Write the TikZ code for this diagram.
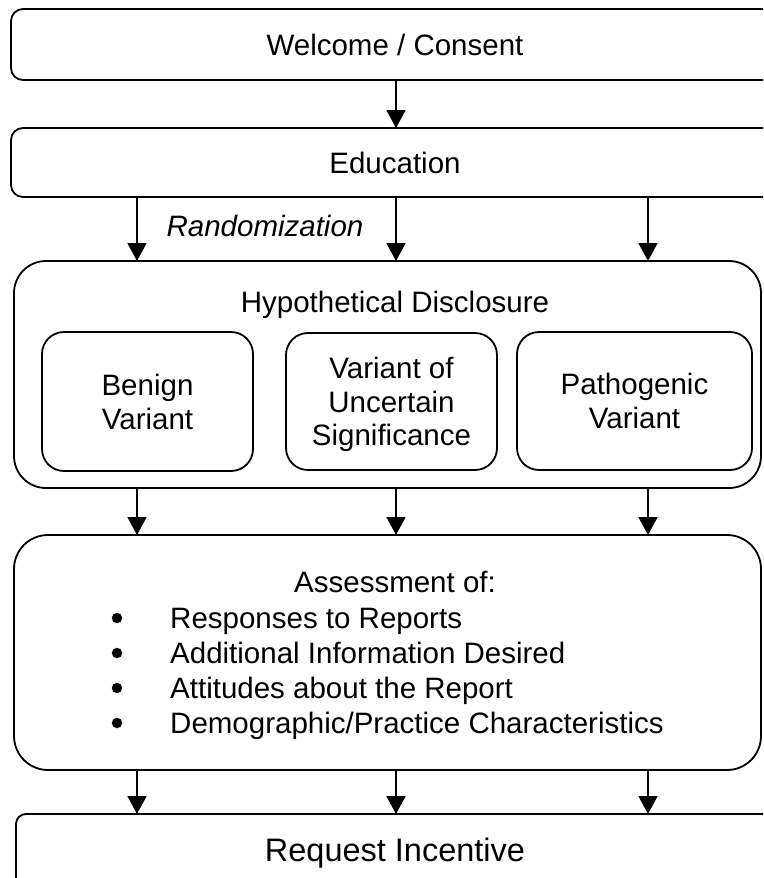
\documentclass[tikz,border=0pt]{standalone}
\usepackage{fontspec}
\setmainfont{Liberation Sans}
\usetikzlibrary{arrows.meta}
\begin{document}
\begin{tikzpicture}[x=1pt,y=-1pt,
  box/.style={draw, line width=1.8pt, inner sep=0pt, outer sep=0pt, align=center, font=\fontsize{29.5}{34}\selectfont},
  arr/.style={line width=1.8pt, -{Triangle[length=18pt,width=19pt]}},
  txt/.style={inner sep=0pt, font=\fontsize{29.5}{35}\selectfont},
  dot/.style={circle, fill, inner sep=0pt, minimum size=10.5pt}]
\useasboundingbox (0,0) rectangle (763,878);
\clip (0,0) rectangle (763,878);
% main boxes
\node[box, rounded corners=12pt, minimum width=768pt, minimum height=71pt] (welcome) at (395,44.5) {Welcome / Consent};
\node[box, rounded corners=12pt, minimum width=768pt, minimum height=69pt] (edu) at (395,162.5) {Education};
\node[box, rounded corners=32pt, minimum width=747pt, minimum height=227pt] (hyp) at (387.5,374.5) {};
\node[txt, anchor=base] (hyptitle) at (395,312) {Hypothetical Disclosure};
\node[box, rounded corners=22pt, minimum width=211pt, minimum height=139pt] (benign) at (147.5,401.5) {Benign\\Variant};
\node[box, rounded corners=22pt, minimum width=211pt, minimum height=137pt] (vus) at (391.5,401.5) {};
\node[txt, align=center, font=\fontsize{29.5}{33.5}\selectfont] (vustext) at (391.5,404.5) {Variant of\\Uncertain\\Significance};
\node[box, rounded corners=22pt, minimum width=235pt, minimum height=138pt] (patho) at (634.5,401) {Pathogenic\\Variant};
\node[box, rounded corners=34pt, minimum width=747pt, minimum height=235pt] (assess) at (387.5,652.5) {};
\node[txt, anchor=base] (asstitle) at (395,592) {Assessment of:};
\node[dot] (b1) at (117,618) {};
\node[dot] (b2) at (117,653) {};
\node[dot] (b3) at (117,688) {};
\node[dot] (b4) at (117,723) {};
\node[txt, anchor=base west] (i1) at (170,628) {Responses to Reports};
\node[txt, anchor=base west] (i2) at (170,663) {Additional Information Desired};
\node[txt, anchor=base west] (i3) at (170,698) {Attitudes about the Report};
\node[txt, anchor=base west] (i4) at (170,733) {Demographic/Practice Characteristics};
\node[box, rounded corners=10pt, font=\fontsize{32.5}{38}\selectfont, minimum width=758pt, minimum height=78pt] (req) at (395,853) {Request Incentive};
\node[txt, anchor=base, font=\itshape\fontsize{29.5}{34}\selectfont] (rand) at (265,236) {Randomization};
% columns
\coordinate (cL) at (137,0);
\coordinate (cM) at (396,0);
\coordinate (cR) at (648,0);
\draw[arr] (welcome.south -| cM) -- (edu.north -| cM);
\foreach \col in {cL,cM,cR} {
  \draw[arr] (edu.south -| \col) -- (hyp.north -| \col);
  \draw[arr] (hyp.south -| \col) -- (assess.north -| \col);
  \draw[arr] (assess.south -| \col) -- (req.north -| \col);
}
\end{tikzpicture}
\end{document}
